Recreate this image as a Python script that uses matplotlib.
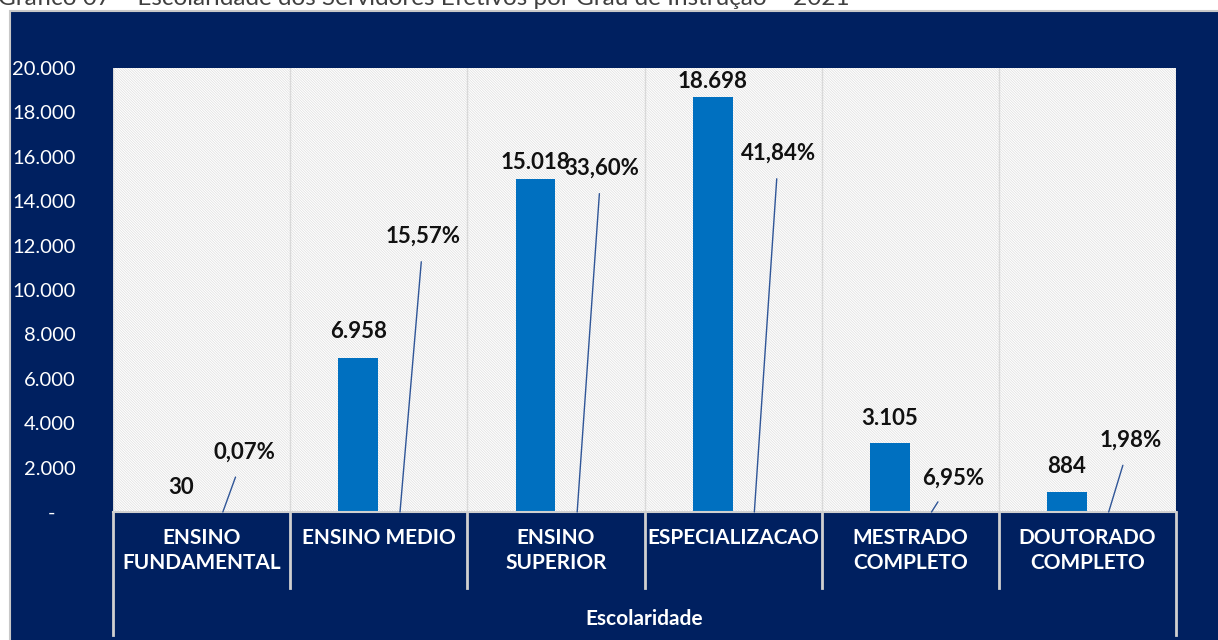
import numpy as np
import matplotlib.pyplot as plt
from matplotlib.patches import Rectangle
from matplotlib.ticker import FuncFormatter

# dados
categorias = ['ENSINO\nFUNDAMENTAL', 'ENSINO MEDIO', 'ENSINO\nSUPERIOR',
              'ESPECIALIZACAO', 'MESTRADO\nCOMPLETO', 'DOUTORADO\nCOMPLETO']
servidores = [30, 6958, 15018, 18698, 3105, 884]
percentuais = ['0,07%', '15,57%', '33,60%', '41,84%', '6,95%', '1,98%']

# posicao (altura) dos rotulos de percentual
pct_label_y = [2700, 12430, 15500, 16170, 1530, 3240]
valor_offset = [24, 26, 16, 15, 25, 26]

azul_escuro = '#002060'
azul_barra = '#0070C0'
cinza = '#d0d0d0'

plt.rcParams['font.family'] = ['Lato', 'DejaVu Sans']
plt.rcParams['hatch.linewidth'] = 0.5

fig = plt.figure(figsize=(12.18, 6.4), dpi=100)
fig.patch.set_facecolor('white')

# fundo azul
fundo_azul = Rectangle((10 / 1218, -0.01), 1, (640 - 11) / 640 + 0.01,
                       transform=fig.transFigure, facecolor=azul_escuro,
                       edgecolor='#c8c8c8', linewidth=1.5, zorder=-10)
fig.add_artist(fundo_azul)
fig.text(-0.002, 1.003, 'Gráfico 07 – Escolaridade dos Servidores Efetivos por Grau de Instrução – 2021',
         fontsize=17.5, color='#404040', ha='left', va='center')

ax = fig.add_axes([113 / 1218, (640 - 512) / 640, (1176 - 113) / 1218, (512 - 68) / 640])
ax.set_facecolor('white')
ax.add_patch(Rectangle((0, 0), 1, 1, transform=ax.transAxes, facecolor='white',
                       edgecolor='#dedede', hatch='\\' * 13, linewidth=0, zorder=0))

x = np.arange(len(categorias))
ax.bar(x - 0.115, servidores, width=0.225, color=azul_barra, zorder=2)

for i, v in enumerate(servidores):
    ax.annotate(f'{v:,}'.replace(',', '.'), (x[i] - 0.115, v), xytext=(0, valor_offset[i]),
                textcoords='offset pixels', ha='center', va='center',
                fontsize=16, fontweight='bold', color='#111111', zorder=4)

for i, p in enumerate(percentuais):
    xa = x[i] + 0.12
    tx = x[i] + 0.12 + 0.12 + (pct_label_y[i] / 20000) * 0.02
    ax.annotate(p, xy=(xa, 0), xytext=(tx, pct_label_y[i]), ha='center', va='center',
                fontsize=16, fontweight='bold', color='#111111', zorder=4,
                arrowprops=dict(arrowstyle='-', color='#2f5597', lw=1,
                                shrinkA=9, shrinkB=0))

ax.set_xlim(-0.5, len(categorias) - 0.5)
ax.set_ylim(0, 20000)
ax.set_yticks(np.arange(0, 20001, 2000))
ax.yaxis.set_major_formatter(FuncFormatter(
    lambda v, pos: '-    ' if v == 0 else f'{int(v):,}'.replace(',', '.')))
ax.tick_params(axis='y', colors='white', labelsize=14.5, length=0, pad=27)
ax.set_xticks([])

for s in ['top', 'left', 'right']:
    ax.spines[s].set_visible(False)
ax.spines['bottom'].set_color(cinza)
ax.spines['bottom'].set_linewidth(1.5)

# separadores das categorias
for k in range(len(categorias) + 1):
    xb = k - 0.5
    ax.plot([xb, xb], [0, 1], color='#d9d9d9', lw=1, transform=ax.get_xaxis_transform(), zorder=1)
    fundo = -0.277 if k in (0, len(categorias)) else -0.171
    ax.plot([xb, xb], [0, fundo], color=cinza, lw=2,
            transform=ax.get_xaxis_transform(), clip_on=False)

for i, c in enumerate(categorias):
    ax.text(x[i], -0.035, c, transform=ax.get_xaxis_transform(), ha='center', va='top',
            fontsize=15, fontweight='bold', color='white', linespacing=1.35)

ax.text(0.5, -0.241, 'Escolaridade', transform=ax.transAxes, ha='center', va='center',
        fontsize=15, fontweight='bold', color='white')

fig.savefig('out.png', dpi=100)
